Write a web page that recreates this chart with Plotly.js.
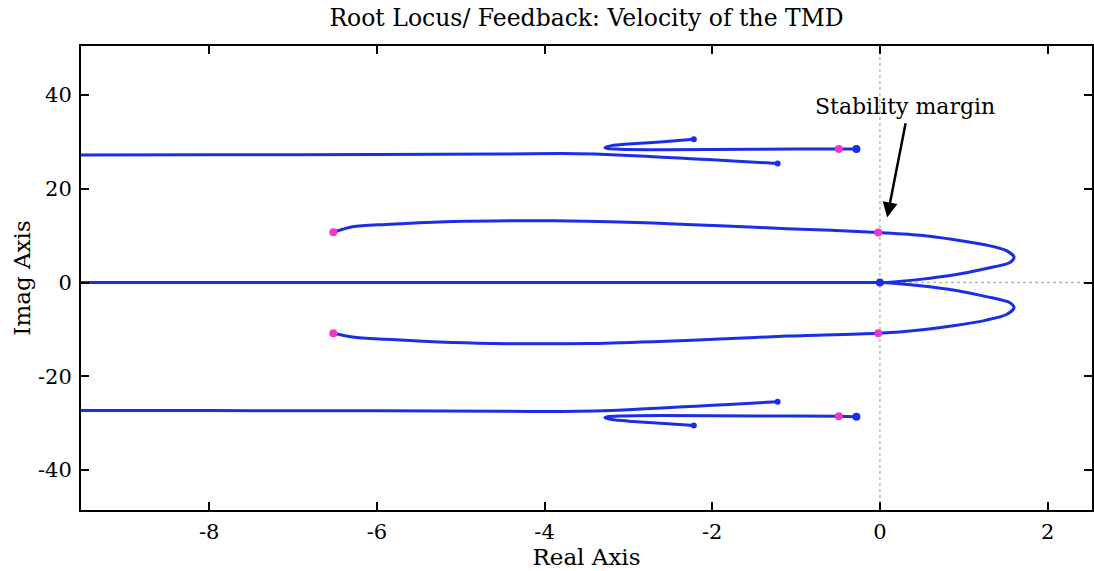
<!DOCTYPE html>
<html>
<head>
<meta charset="utf-8">
<script src="https://cdn.plot.ly/plotly-3.0.1.min.js"></script>
<style>html,body{margin:0;padding:0;background:#fff;}#chart{width:1094px;height:571px;}</style>
</head>
<body>
<div id="chart"></div>
<script>
// ---- Data ----
// Upper high-frequency pair: branch from pole hairpinning to a zero
const upHairX = [-0.28, -0.49, -1.5, -2.6, -3.1, -3.25, -3.28, -3.2, -3.0, -2.62, -2.22];
const upHairY = [28.5, 28.5, 28.45, 28.35, 28.45, 28.6, 28.8, 29.2, 29.55, 30.0, 30.55];
// Upper branch from the zero-like point to -infinity
const upTailX = [-10, -8, -6, -4.5, -3.8, -3.4, -3.0, -2.6, -2.2, -1.8, -1.22];
const upTailY = [27.2, 27.25, 27.3, 27.4, 27.5, 27.4, 27.1, 26.75, 26.35, 26.0, 25.4];
// Lower (conjugate) counterparts
const loHairX = [-0.28, -0.49, -1.5, -2.6, -3.1, -3.25, -3.28, -3.2, -3.0, -2.62, -2.22];
const loHairY = [-28.6, -28.5, -28.45, -28.35, -28.45, -28.6, -28.8, -29.2, -29.55, -30.0, -30.5];
const loTailX = [-10, -8, -6, -4.5, -3.8, -3.4, -3.0, -2.6, -2.2, -1.8, -1.22];
const loTailY = [-27.25, -27.3, -27.35, -27.45, -27.5, -27.4, -27.1, -26.75, -26.35, -26.0, -25.4];
// Large loop (upper)
const loopUpX = [-6.52, -6.29, -5.89, -5.10, -4.30, -3.50, -2.71, -1.91, -1.11, -0.02, 0.48, 0.875, 1.27, 1.51, 1.6, 1.55, 1.27, 0.875, 0.48, 0.08, 0];
const loopUpY = [10.75, 11.9, 12.4, 13.0, 13.2, 13.1, 12.7, 12.1, 11.5, 10.7, 10.1, 9.2, 8.0, 6.8, 5.4, 4.3, 3.0, 1.6, 0.68, 0.04, 0];
// Large loop (lower)
const loopLoX = [-6.52, -6.29, -5.89, -5.10, -4.30, -3.50, -2.71, -1.91, -1.11, -0.02, 0.48, 0.875, 1.27, 1.51, 1.6, 1.55, 1.27, 0.875, 0.48, 0.08, 0];
const loopLoY = [-10.8, -11.6, -12.1, -12.8, -13.05, -13.0, -12.6, -12.05, -11.4, -10.8, -10.1, -9.2, -8.0, -6.8, -5.4, -4.3, -3.0, -1.6, -0.68, -0.04, 0];
// Real-axis branch
const realX = [-10, 0];
const realY = [0, 0];
// Markers
const poleX = [-0.28, -0.28, 0];
const poleY = [28.5, -28.6, 0];
const zeroX = [-2.22, -1.22, -2.22, -1.22];
const zeroY = [30.55, 25.4, -30.5, -25.4];
const marginX = [-0.49, -0.49, -6.52, -6.52, -0.02, -0.02];
const marginY = [28.5, -28.5, 10.75, -10.8, 10.7, -10.8];
// Ticks
const xTickVals = [-8, -6, -4, -2, 0, 2];
const xTickText = ['-8', '-6', '-4', '-2', '0', '2'];
const yTickVals = [-40, -20, 0, 20, 40];
const yTickText = ['-40', '-20', '0', '20', '40'];

const BLUE = '#1a2ee6';
const MAG = '#f236c8';
const lineStyle = {color: BLUE, width: 3};

const traces = [
  {x: realX, y: realY, mode: 'lines', line: lineStyle},
  {x: upHairX, y: upHairY, mode: 'lines', line: Object.assign({shape: 'spline', smoothing: 0.6}, lineStyle)},
  {x: upTailX, y: upTailY, mode: 'lines', line: Object.assign({shape: 'spline', smoothing: 0.6}, lineStyle)},
  {x: loHairX, y: loHairY, mode: 'lines', line: Object.assign({shape: 'spline', smoothing: 0.6}, lineStyle)},
  {x: loTailX, y: loTailY, mode: 'lines', line: Object.assign({shape: 'spline', smoothing: 0.6}, lineStyle)},
  {x: loopUpX, y: loopUpY, mode: 'lines', line: Object.assign({shape: 'spline', smoothing: 0.8}, lineStyle)},
  {x: loopLoX, y: loopLoY, mode: 'lines', line: Object.assign({shape: 'spline', smoothing: 0.8}, lineStyle)},
  {x: zeroX, y: zeroY, mode: 'markers', marker: {color: BLUE, size: 6}},
  {x: poleX, y: poleY, mode: 'markers', marker: {color: BLUE, size: 8}},
  {x: marginX, y: marginY, mode: 'markers', marker: {color: MAG, size: 8}}
];

const FONT = 'DejaVu Serif';
const axisCommon = {
  showgrid: false, zeroline: false, showline: true, linecolor: '#000', linewidth: 2,
  mirror: 'ticks', ticks: 'inside', ticklen: 8, tickwidth: 2, tickcolor: '#000',
  tickfont: {family: FONT, size: 21, color: '#000'}
};

const layout = {
  width: 1094, height: 571,
  margin: {l: 81, r: 2, t: 46, b: 61},
  paper_bgcolor: '#fff', plot_bgcolor: '#fff',
  showlegend: false,
  font: {family: FONT, color: '#000'},
  title: {text: 'Root Locus/ Feedback: Velocity of the TMD', font: {family: FONT, size: 23.5, color: '#000'},
          x: 0.5, xref: 'paper', y: 1 - 18/571, yref: 'container', yanchor: 'middle'},
  xaxis: Object.assign({}, axisCommon, {
    range: [-9.53, 2.53], tickvals: xTickVals, ticktext: xTickText, ticklabelstandoff: 2,
    title: {text: 'Real Axis', font: {family: FONT, size: 23, color: '#000'}, standoff: 0}
  }),
  yaxis: Object.assign({}, axisCommon, {
    range: [-48.5, 50.45], tickvals: yTickVals, ticktext: yTickText, ticklabelstandoff: 3,
    title: {text: 'Imag Axis', font: {family: FONT, size: 23, color: '#000'}, standoff: 1}
  }),
  shapes: [
    {type: 'line', xref: 'x', yref: 'paper', x0: 0, x1: 0, y0: 0, y1: 1, layer: 'below',
     line: {color: '#b8b8b8', width: 1.5, dash: 'dot'}},
    {type: 'line', xref: 'paper', yref: 'y', x0: 0, x1: 1, y0: 0, y1: 0, layer: 'below',
     line: {color: '#b8b8b8', width: 1.5, dash: 'dot'}}
  ],
  annotations: [
    {x: 0.30, y: 37.5, xref: 'x', yref: 'y', text: 'Stability margin', showarrow: false,
     font: {family: FONT, size: 22, color: '#000'}, xanchor: 'center', yanchor: 'middle'},
    {x: 0.087, y: 13.9, xref: 'x', yref: 'y', ax: 0.31, ay: 34.3, axref: 'x', ayref: 'y',
     text: '', showarrow: true, arrowhead: 2, arrowsize: 1.2, arrowwidth: 2.5, arrowcolor: '#000', standoff: 0}
  ]
};

Plotly.newPlot('chart', traces, layout, {displayModeBar: false, staticPlot: true});
</script>
</body>
</html>
